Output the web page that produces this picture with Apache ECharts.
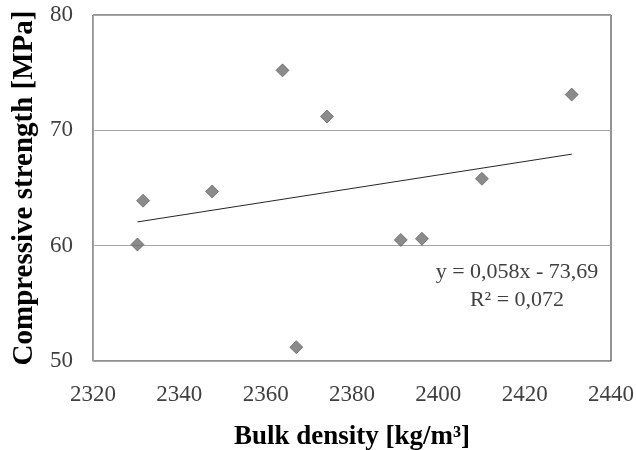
<!DOCTYPE html>
<html>
<head>
<meta charset="utf-8">
<script src="https://cdn.jsdelivr.net/npm/echarts@6/dist/echarts.min.js"></script>
<style>
html,body{margin:0;padding:0;background:#fff;}
#chart{width:636px;height:450px;}
</style>
</head>
<body>
<div id="chart"></div>
<script>
// Data
var density = [2330.3, 2331.6, 2347.6, 2363.9, 2367.1, 2374.2, 2391.3, 2396.2, 2410.1, 2430.9];
var strength = [60.1, 63.9, 64.7, 75.2, 51.2, 71.2, 60.5, 60.6, 65.8, 73.1];
var xTicks = [2320, 2340, 2360, 2380, 2400, 2420, 2440];
var yTicks = [50, 60, 70, 80];
var xTitle = 'Bulk density [kg/m\u00B3]';
var yTitle = 'Compressive strength [MPa]';
var eqText = 'y = 0,058x - 73,69';
var r2Text = 'R\u00B2 = 0,072';

// Least-squares trendline (as the spreadsheet draws it)
var n = density.length, mx = 0, my = 0;
for (var i = 0; i < n; i++) { mx += density[i]; my += strength[i]; }
mx /= n; my /= n;
var sxy = 0, sxx = 0;
for (var i = 0; i < n; i++) { sxy += (density[i]-mx)*(strength[i]-my); sxx += (density[i]-mx)*(density[i]-mx); }
var slope = sxy / sxx, intercept = my - slope * mx;
var xMin = Math.min.apply(null, density), xMax = Math.max.apply(null, density);
var trend = [[xMin, slope*xMin+intercept], [xMax, slope*xMax+intercept]];

var pts = density.map(function(d, i){ return [d, strength[i]]; });

var chart = echarts.init(document.getElementById('chart'), null, {renderer:'canvas'});
var serif = '"Liberation Serif","Times New Roman",serif';
chart.setOption({
  animation: false,
  backgroundColor: '#fff',
  grid: {left: 93, right: 25, top: 15, bottom: 89, show: true, borderColor: '#262626', borderWidth: 1, containLabel: false, outerBoundsMode: 'none'},
  xAxis: {
    type: 'value', min: xTicks[0], max: xTicks[xTicks.length-1], interval: 20,
    axisLine: {show: true, onZero: false, lineStyle: {color: '#a6a6a6', width: 1}},
    axisTick: {show: false},
    splitLine: {show: false},
    axisLabel: {color: '#404040', fontFamily: serif, fontSize: 23, margin: 22, formatter: function(v){ return String(v); }},
    name: xTitle, nameLocation: 'middle', nameGap: 63,
    nameTextStyle: {color: '#000', fontFamily: serif, fontSize: 27, fontWeight: 'bold'}
  },
  yAxis: {
    type: 'value', min: yTicks[0], max: yTicks[yTicks.length-1], interval: 10,
    axisLine: {show: true, onZero: false, lineStyle: {color: '#a6a6a6', width: 1}},
    axisTick: {show: false},
    splitLine: {show: true, lineStyle: {color: '#a6a6a6', width: 1}},
    axisLabel: {color: '#404040', fontFamily: serif, fontSize: 23, margin: 20, formatter: function(v){ return String(v); }},
    name: yTitle, nameLocation: 'middle', nameGap: 50, nameRotate: 90,
    nameTextStyle: {color: '#000', fontFamily: serif, fontSize: 29, fontWeight: 'bold'}
  },
  series: [
    {
      type: 'line', data: trend, symbol: 'none', silent: true,
      lineStyle: {color: '#262626', width: 1}, z: 2
    },
    {
      type: 'scatter', data: pts, symbol: 'diamond', symbolSize: 13,
      itemStyle: {color: '#6e6e6e', borderColor: '#555', borderWidth: 0.8}, z: 3
    }
  ],
  graphic: [
    {type: 'text', left: 517 - 90, top: 258, style: {text: eqText + '\n' + r2Text, fill: '#404040', font: '22px ' + serif, textAlign: 'center', lineHeight: 28, width: 180}}
  ]
});
</script>
</body>
</html>
